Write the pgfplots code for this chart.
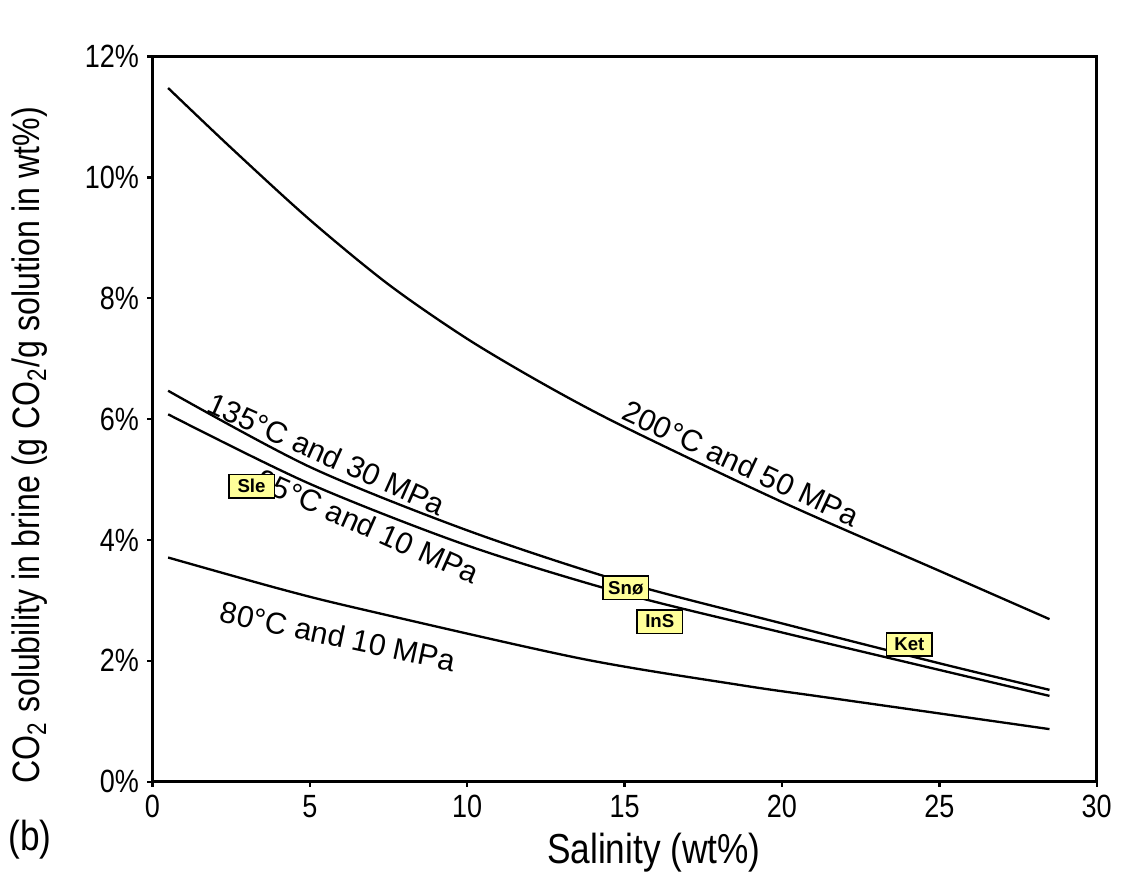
\documentclass[border=0pt]{standalone}
\usepackage{fontspec}
\setmainfont{Liberation Sans}
\newfontfamily\narrow{Liberation Sans}[FakeStretch=0.84]
\usepackage{pgfplots}
\pgfplotsset{compat=1.18}
\definecolor{boxyellow}{HTML}{FFFF99}

% CO2 solubility curves (wt%) against brine salinity (wt%)
\pgfplotstableread{
x     y
0.5   11.48
2.5   10.49
5     9.30
7.5   8.23
10    7.33
12.5  6.56
15    5.87
20    4.63
25    3.49
28.5  2.69
}\hightp
\pgfplotstableread{
x     y
0.5   6.47
5     5.21
10    4.16
15    3.30
20    2.62
25    1.96
28.5  1.52
}\midhigh
\pgfplotstableread{
x     y
0.5   6.08
5     4.93
10    3.91
15    3.11
20    2.47
25    1.85
28.5  1.42
}\midlow
\pgfplotstableread{
x      y
0.5    3.71
4.06   3.19
6.6    2.86
13.59  2.04
18.67  1.60
21.21  1.41
25     1.13
28.5   0.87
}\lowtp
\pgfplotstableread{
x      y     label
3.15   4.89  Sle
15.04  3.21  Snø
16.12  2.65  InS
24.05  2.27  Ket
}\fields

\begin{document}
\begin{tikzpicture}
\useasboundingbox (-65.4pt,-41.3pt) rectangle (421.3pt,335.5pt);
\begin{axis}[
  at={(0,0)}, anchor=south west,
  width=405.3pt, height=311.2pt, scale only axis,
  xmin=0, xmax=30, ymin=0, ymax=12,
  xtick={0,5,...,30}, ytick={0,2,...,12},
  tick pos=left, tick align=outside,
  major tick length=2.2pt,
  tick style={line width=1pt, black},
  axis line style={line width=1.3pt},
  /pgf/number format/assume math mode=true,
  ticklabel style={font=\narrow\fontsize{13.8}{16}\selectfont},
  yticklabel={\pgfmathprintnumber{\tick}\%},
  xlabel={Salinity (wt\%)},
  xlabel style={at={(rel axis cs:0.531,-0.098)}, anchor=center,
    font=\narrow\fontsize{18}{20}\selectfont},
  ylabel={CO\textsubscript{2} solubility in brine (g CO\textsubscript{2}/g solution in wt\%)},
  ylabel style={at={(rel axis cs:-0.1295,0.464)}, anchor=center,
    font=\narrow\fontsize{16.4}{18}\selectfont},
  clip=false,
]
\addplot[black, line width=1pt, smooth] table {\hightp};
\addplot[black, line width=1pt, smooth] table {\midhigh};
\addplot[black, line width=1pt, smooth] table {\midlow};
\addplot[black, line width=1pt, smooth] table {\lowtp};

\node[rotate=-25, font=\fontsize{13}{15}\selectfont] at (axis cs:18.70,5.27) {200°C and 50 MPa};
\node[rotate=-24, font=\fontsize{13}{15}\selectfont] at (axis cs:5.54,5.42) {135°C and 30 MPa};
\node[rotate=-24, font=\fontsize{13}{15}\selectfont] at (axis cs:6.85,4.23) {95°C and 10 MPa};
\node[rotate=-12, font=\fontsize{13}{15}\selectfont] at (axis cs:5.90,2.41) {80°C and 10 MPa};

% field labels, drawn after the curve captions so they sit on top
\addplot[only marks, mark=*, mark size=0pt,
  mark options={draw=none, fill=none},
  nodes near coords, point meta=explicit symbolic,
  nodes near coords style={anchor=center, draw=black, fill=boxyellow,
    line width=0.6pt, minimum width=19.5pt, minimum height=10pt, inner sep=1pt,
    font=\bfseries\fontsize{8}{9}\selectfont}]
  table[meta=label] {\fields};

\node[font=\narrow\fontsize{18}{20}\selectfont] at (rel axis cs:-0.1295,-0.0804) {(b)};
\end{axis}
\end{tikzpicture}
\end{document}
